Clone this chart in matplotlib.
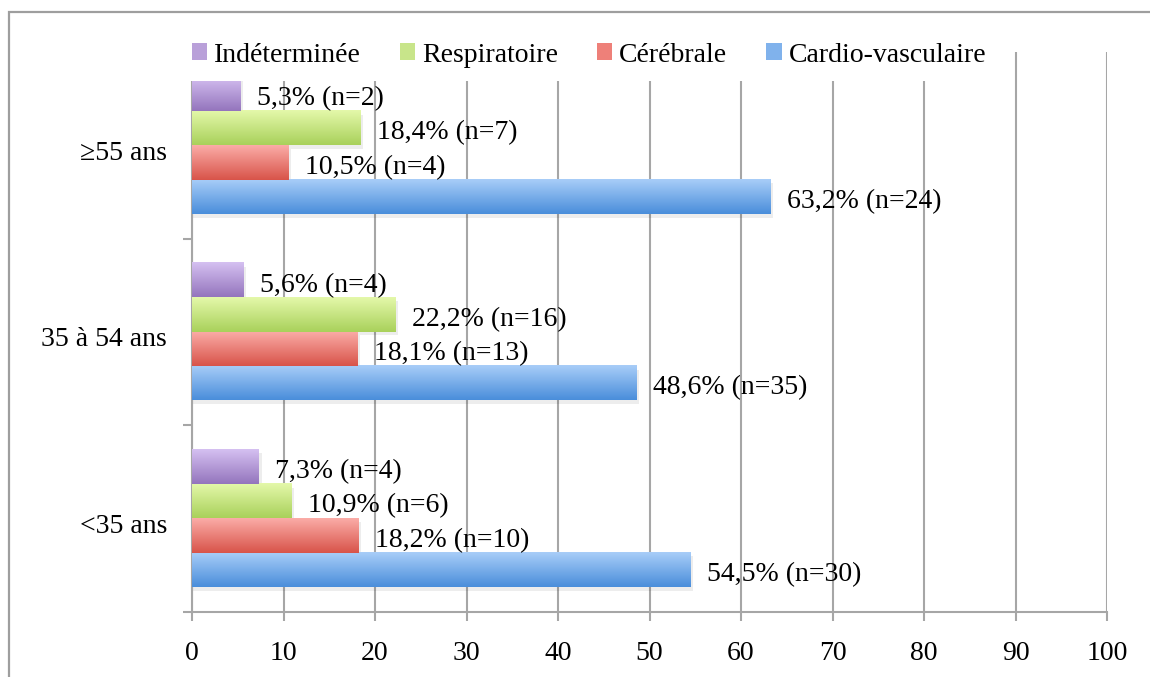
import matplotlib
matplotlib.use("Agg")
import matplotlib.pyplot as plt
import matplotlib.patches as patches
import matplotlib.transforms as mtransforms
import numpy as np
from matplotlib.colors import LinearSegmentedColormap

# --------------------------------------------------------------------------
# Data
# --------------------------------------------------------------------------
categories = ["<35 ans", "35 à 54 ans", "≥55 ans"]
series = ["Cardio-vasculaire", "Cérébrale", "Respiratoire", "Indéterminée"]
cardio = [54.5, 48.6, 63.2]
cerebrale = [18.2, 18.1, 10.5]
respiratoire = [10.9, 22.2, 18.4]
indeterminee = [7.3, 5.6, 5.3]
cardio_n = [30, 35, 24]
cerebrale_n = [10, 13, 4]
respiratoire_n = [6, 16, 7]
indeterminee_n = [4, 4, 2]

values = [cardio, cerebrale, respiratoire, indeterminee]
counts = [cardio_n, cerebrale_n, respiratoire_n, indeterminee_n]
# gradient colours (top, bottom)
grads = [("#a8cdf8", "#4a8edb"),
         ("#fbaca7", "#d8544a"),
         ("#e4f8aa", "#a9d15b"),
         ("#d5c0f1", "#9475bd")]

plt.rcParams['font.family'] = ['Liberation Serif', 'DejaVu Serif']
FS = 20
GRID = "#a6a6a6"

fig = plt.figure(figsize=(11.5, 6.77), dpi=100)
ax = fig.add_axes([192 / 1150, 1 - 611.5 / 677, (1107 - 192) / 1150, (611.5 - 52) / 677])

# outer border of the chart area
fig.add_artist(patches.Rectangle((9 / 1150, -0.1), 1.2, 1 - 12 / 677 + 0.1,
                                 transform=fig.transFigure, fill=False,
                                 edgecolor="#9e9e9e", linewidth=1.6))

h = 0.184
y = np.arange(len(categories))
offsets = [-1.5 * h, -0.5 * h, 0.5 * h, 1.5 * h]

for vals, ns, (ctop, cbot), off, name in zip(values, counts, grads, offsets, series):
    bars = ax.barh(y + off, vals, height=h, color=cbot, zorder=3, label=name)
    cmap = LinearSegmentedColormap.from_list(name, [ctop, cbot])
    grad = np.linspace(0, 1, 64).reshape(-1, 1)
    for b, v, n in zip(bars, vals, ns):
        x0, y0 = b.get_x(), b.get_y()
        w, hh = b.get_width(), b.get_height()
        # soft shadow
        ax.add_patch(patches.Rectangle((x0, y0 - 0.02), w + 0.3, hh, color="#000000",
                                       alpha=0.07, zorder=2, linewidth=0))
        ax.imshow(grad, cmap=cmap, extent=(x0, x0 + w, y0, y0 + hh), origin="upper",
                  aspect="auto", zorder=4, interpolation="bilinear")
        ax.annotate(f"{v:.1f}".replace(".", ",") + f"% (n={n})", (v, b.get_y() + hh / 2),
                    xytext=(12, -3.5), textcoords="offset points", va="center", ha="left",
                    fontsize=FS, zorder=6)

ax.set_xlim(0, 100)
ax.set_ylim(-0.5, 2.5)
ax.set_xticks(np.arange(0, 101, 10))
ax.tick_params(axis="x", length=6.5, width=1.5, color=GRID, pad=15, labelsize=FS)
ax.set_yticks(y)
ax.set_yticklabels(categories)
ax.set_yticks([-0.5, 0.5, 1.5, 2.5], minor=True)
ax.tick_params(axis="y", which="major", length=0, pad=18, labelsize=FS)
ax.tick_params(axis="y", which="minor", length=6.5, width=1.5, color=GRID)
# shift category labels a touch lower, like the original
shift = mtransforms.ScaledTranslation(0, -3.5 / 72, fig.dpi_scale_trans)
for lab in ax.get_yticklabels():
    lab.set_transform(lab.get_transform() + shift)
ax.grid(axis="x", color=GRID, linewidth=1.5, zorder=0)
ax.set_axisbelow(True)
for s in ["top", "right"]:
    ax.spines[s].set_visible(False)
for s in ["left", "bottom"]:
    ax.spines[s].set_color(GRID)
    ax.spines[s].set_linewidth(1.5)

leg_handles = [patches.Rectangle((0, 0), 1, 1, facecolor=c, edgecolor="none")
               for c in ["#b9a0d9", "#c8e58a", "#ee8079", "#80b2ec"]]
leg = ax.legend(leg_handles, ["Indéterminée", "Respiratoire", "Cérébrale", "Cardio-vasculaire"],
                ncol=4, loc="center left", bbox_to_anchor=(178 / 1150, 1 - 55 / 677),
                bbox_transform=fig.transFigure, fontsize=FS, frameon=True,
                facecolor="white", edgecolor="none", framealpha=1, fancybox=False,
                handlelength=0.55, handleheight=0.55, handletextpad=0.25,
                columnspacing=1.4, borderpad=0.5, borderaxespad=0)
leg.set_zorder(10)

fig.savefig("out.png", dpi=100)
